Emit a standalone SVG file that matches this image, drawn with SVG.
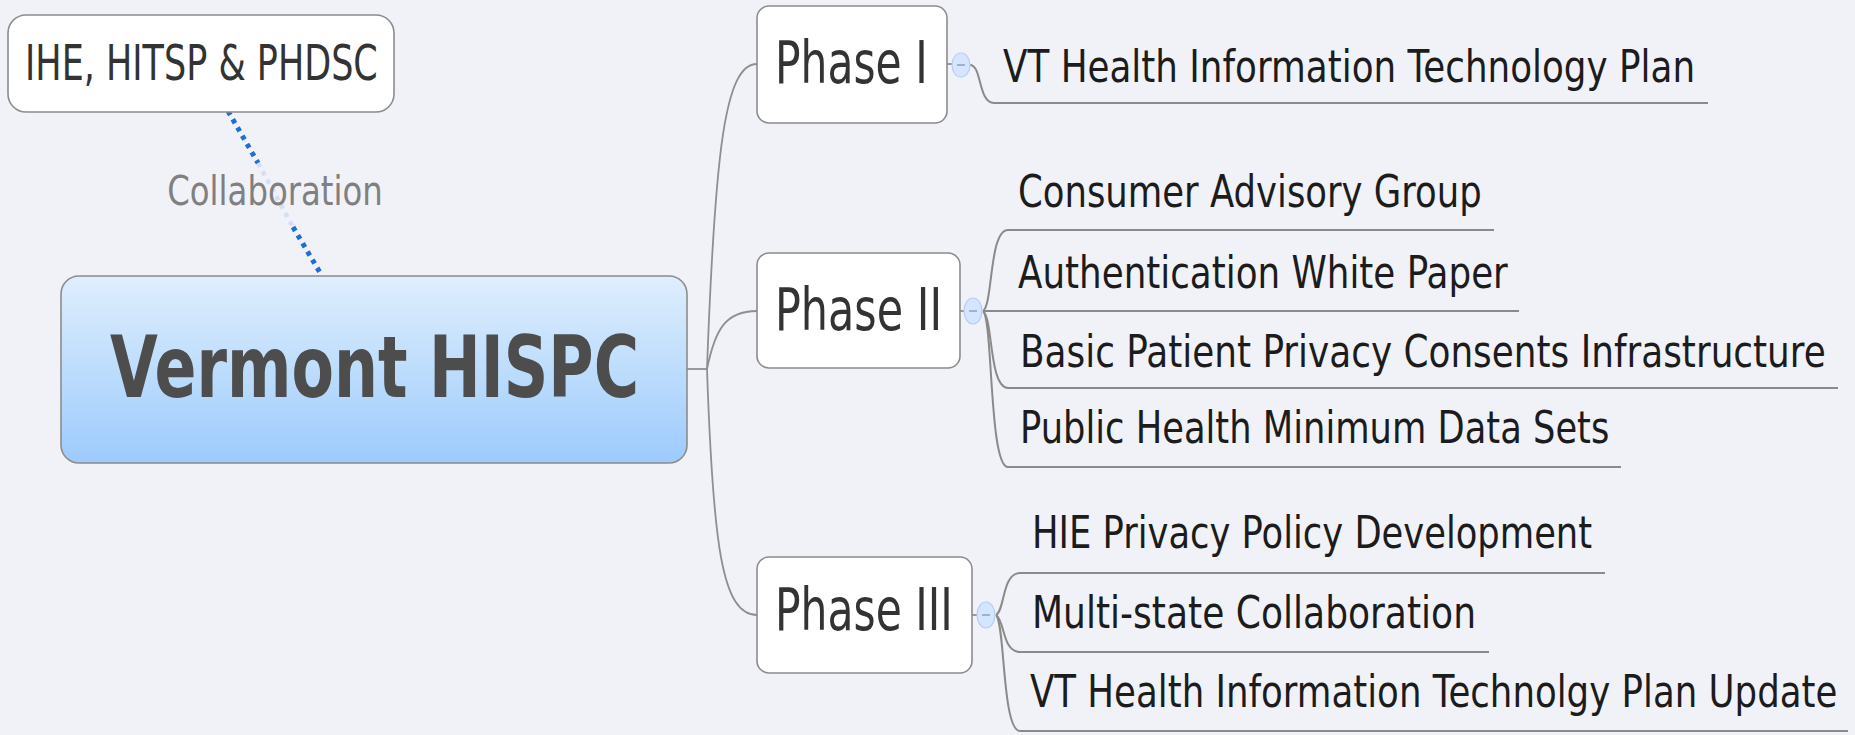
<svg xmlns="http://www.w3.org/2000/svg" width="1855" height="735" viewBox="0 0 1855 735">
<style>
text{font-family:"DejaVu Sans","Liberation Sans",sans-serif;}
.box{fill:#ffffff;stroke:#8c8c8c;stroke-width:1.6;}
.conn{fill:none;stroke:#8f8f8f;stroke-width:1.8;}
.ul{fill:none;stroke:#8a8a8a;stroke-width:2;}
.ph{font-size:59px;fill:#333333;}
.ch{font-size:45px;fill:#1c1c1c;}
.tog{fill:#d5e5fd;stroke:#b5cdf3;stroke-width:1.2;}
.minus{stroke:#8aa0c0;stroke-width:1.5;}
.rel{fill:none;stroke:#1a6fd8;stroke-width:5;stroke-dasharray:4.5 5;}
</style>
<defs>
<linearGradient id="g" x1="0" y1="0" x2="0" y2="1">
<stop offset="0" stop-color="#dfeefd"/>
<stop offset="1" stop-color="#9ccbfc"/>
</linearGradient>
</defs>
<rect width="1855" height="735" fill="#f1f2f8"/>

<g id="connectors">
<path class="conn" d="M687,369 H707"/>
<path class="conn" d="M707,369 C715,150 725,64 757,64"/>
<path class="conn" d="M707,369 C715,330 725,311 757,311"/>
<path class="conn" d="M707,369 C713,545 722,615 757,615"/>
<path class="conn" d="M947,64 H952"/>
<path class="conn" d="M960,311 H964"/>
<path class="conn" d="M972,615 H977"/>
<path class="ul" d="M970,65 C982,65 978,103 994,103 H1708"/>
<path class="ul" d="M983,311 C993,305 989,230 1008,230 H1494"/>
<path class="ul" d="M983,311 H1519"/>
<path class="ul" d="M983,311 C993,318 989,388 1008,388 H1838"/>
<path class="ul" d="M983,311 C993,320 989,467 1008,467 H1621"/>
<path class="ul" d="M996,615 C1005,610 1002,573 1020,573 H1605"/>
<path class="ul" d="M996,615 C1005,620 1002,652 1020,652 H1489"/>
<path class="ul" d="M996,615 C1005,622 1002,731 1020,731 H1848"/>
<path class="rel" d="M228,111 L258,163"/>
<path d="M258,163 L293,227" fill="none" stroke="#1a6fd8" stroke-width="4.5" stroke-dasharray="4.5 5" opacity="0.14"/>
<path class="rel" d="M293,227 L322,276"/>
<text transform="translate(275,205) scale(0.79,1)" text-anchor="middle" font-size="41" fill="#808080" textLength="273" lengthAdjust="spacingAndGlyphs">Collaboration</text>
</g>

<g id="ihe">
<rect class="box" x="8" y="15" width="386" height="97" rx="18"/>
<text transform="translate(25,80) scale(0.7,1)" font-size="50" fill="#333333" textLength="504" lengthAdjust="spacingAndGlyphs">IHE, HITSP &amp; PHDSC</text>
</g>

<g id="vermont">
<rect x="61" y="276" width="626" height="187" rx="18" fill="url(#g)" stroke="#8c8c8c" stroke-width="1.6"/>
<text transform="translate(110,397) scale(0.715,1)" font-size="86" font-weight="bold" fill="#4d4d4d" textLength="740" lengthAdjust="spacingAndGlyphs">Vermont HISPC</text>
</g>

<g id="phase1">
<rect class="box" x="757" y="6" width="190" height="117" rx="12"/>
<text class="ph" transform="translate(775,83) scale(0.72,1)" textLength="212" lengthAdjust="spacingAndGlyphs">Phase I</text>
<ellipse class="tog" cx="961" cy="65" rx="9" ry="12"/>
<line class="minus" x1="957" y1="65" x2="965" y2="65"/>
</g>

<g id="phase2">
<rect class="box" x="757" y="253" width="203" height="115" rx="12"/>
<text class="ph" transform="translate(775,330) scale(0.72,1)" textLength="232" lengthAdjust="spacingAndGlyphs">Phase II</text>
<ellipse class="tog" cx="973" cy="311" rx="9" ry="13"/>
<line class="minus" x1="969" y1="311" x2="977" y2="311"/>
</g>

<g id="phase3">
<rect class="box" x="757" y="557" width="215" height="116" rx="12"/>
<text class="ph" transform="translate(775,630) scale(0.72,1)" textLength="247" lengthAdjust="spacingAndGlyphs">Phase III</text>
<ellipse class="tog" cx="986" cy="615" rx="9" ry="13"/>
<line class="minus" x1="982" y1="615" x2="990" y2="615"/>
</g>

<g id="vt-plan"><text class="ch" transform="translate(1003,82) scale(0.79,1)" textLength="876" lengthAdjust="spacingAndGlyphs">VT Health Information Technology Plan</text></g>
<g id="consumer"><text class="ch" transform="translate(1018,207) scale(0.79,1)" textLength="587" lengthAdjust="spacingAndGlyphs">Consumer Advisory Group</text></g>
<g id="auth"><text class="ch" transform="translate(1018,288) scale(0.79,1)" textLength="620" lengthAdjust="spacingAndGlyphs">Authentication White Paper</text></g>
<g id="basic"><text class="ch" transform="translate(1020,367) scale(0.79,1)" textLength="1020" lengthAdjust="spacingAndGlyphs">Basic Patient Privacy Consents Infrastructure</text></g>
<g id="public"><text class="ch" transform="translate(1020,443) scale(0.79,1)" textLength="746" lengthAdjust="spacingAndGlyphs">Public Health Minimum Data Sets</text></g>
<g id="hie"><text class="ch" transform="translate(1032,548) scale(0.79,1)" textLength="709" lengthAdjust="spacingAndGlyphs">HIE Privacy Policy Development</text></g>
<g id="multi"><text class="ch" transform="translate(1032,628) scale(0.79,1)" textLength="562" lengthAdjust="spacingAndGlyphs">Multi-state Collaboration</text></g>
<g id="vt-update"><text class="ch" transform="translate(1030,707) scale(0.79,1)" textLength="1022" lengthAdjust="spacingAndGlyphs">VT Health Information Technolgy Plan Update</text></g>
</svg>
